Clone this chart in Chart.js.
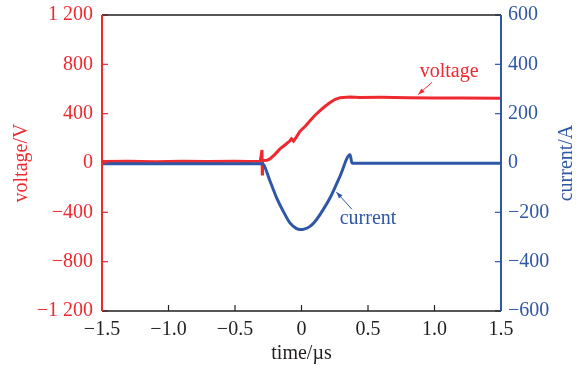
<!DOCTYPE html>
<html>
<head>
<meta charset="utf-8">
<script src="https://cdn.jsdelivr.net/npm/chart.js@4/dist/chart.umd.min.js"></script>
<style>
  html, body { margin: 0; padding: 0; background: #fff; }
  #wrap { width: 579px; height: 370px; }
</style>
</head>
<body>
<div id="wrap"><canvas id="waveChart" width="579" height="370"></canvas></div>
<script>
// voltage trace (time in µs, volts)
const voltageTime = [-1.5, -1.3, -1.1, -0.9, -0.7, -0.5, -0.4, -0.31, -0.297, -0.295, -0.293, -0.26, -0.237, -0.2, -0.162, -0.12, -0.087, -0.075, -0.06, -0.04, -0.011, 0.03, 0.064, 0.1, 0.139, 0.18, 0.215, 0.25, 0.29, 0.365, 0.44, 0.6, 0.8, 1.0, 1.2, 1.5];
const voltageValues = [12, 14, 11, 14, 12, 14, 13, 15, 106, -90, 20, 22, 33, 70, 114, 150, 180, 196, 178, 208, 258, 300, 343, 385, 424, 462, 490, 515, 530, 536, 532, 533, 530, 528, 527, 526];

// current trace (time in µs, amps)
const currentTime = [-1.5, -1.0, -0.5, -0.295, -0.237, -0.187, -0.137, -0.087, -0.04, -0.011, 0.02, 0.064, 0.1, 0.139, 0.215, 0.29, 0.365, 0.38, 0.42, 1.0, 1.5];
const currentValues = [-3, -3, -3, -3, -73, -141, -196, -243, -265, -270, -268, -257, -238, -209, -141, -53, 33, -1, -1, -1, -1];

const xTicks = [-1.5, -1.0, -0.5, 0, 0.5, 1.0, 1.5];
const xTickLabels = ["\u22121.5", "\u22121.0", "\u22120.5", "0", "0.5", "1.0", "1.5"];
const vTicks = [-1200, -800, -400, 0, 400, 800, 1200];
const vTickLabels = ["\u22121 200", "\u2212800", "\u2212400", "0", "400", "800", "1 200"];
const iTicks = [-600, -400, -200, 0, 200, 400, 600];
const iTickLabels = ["\u2212600", "\u2212400", "\u2212200", "0", "200", "400", "600"];

const RED = "#ee2a30";
const BLUE = "#2f57a7";
const INK = "#231f20";
const FONT = "Liberation Serif";

const toPoints = (xs, ys) => xs.map((t, i) => ({ x: t, y: ys[i] }));
const setTicks = (vals) => (scale) => { scale.ticks = vals.map(v => ({ value: v })); };
const labelFrom = (vals, labels) => (v) => labels[vals.indexOf(v)] ?? "";
const fixBox = (w, h) => (s) => {
  if (w) s.width = w;
  if (h) s.height = h;
  s.paddingTop = 0; s.paddingBottom = 0; s.paddingLeft = 0; s.paddingRight = 0;
};

// frame, inward ticks, axis titles and the two callouts
const decor = {
  id: "decor",
  afterDatasetsDraw(chart) {
    const { ctx, chartArea: a, scales: { x, y, y2 } } = chart;
    ctx.save();
    const tick = 6;

    ctx.lineWidth = 1.2;
    ctx.strokeStyle = INK;
    xTicks.forEach(v => {
      const px = x.getPixelForValue(v);
      ctx.beginPath(); ctx.moveTo(px, a.bottom); ctx.lineTo(px, a.bottom - tick); ctx.stroke();
    });
    ctx.strokeStyle = RED;
    vTicks.forEach(v => {
      const py = y.getPixelForValue(v);
      ctx.beginPath(); ctx.moveTo(a.left, py); ctx.lineTo(a.left + tick, py); ctx.stroke();
    });
    ctx.strokeStyle = BLUE;
    iTicks.forEach(v => {
      const py = y2.getPixelForValue(v);
      ctx.beginPath(); ctx.moveTo(a.right, py); ctx.lineTo(a.right - tick, py); ctx.stroke();
    });

    ctx.lineWidth = 1.5;
    ctx.strokeStyle = INK;
    ctx.beginPath();
    ctx.moveTo(a.left, a.top); ctx.lineTo(a.right, a.top);
    ctx.moveTo(a.left, a.bottom); ctx.lineTo(a.right, a.bottom);
    ctx.stroke();
    ctx.lineWidth = 2;
    ctx.strokeStyle = RED;
    ctx.beginPath(); ctx.moveTo(a.left, a.top); ctx.lineTo(a.left, a.bottom); ctx.stroke();
    ctx.strokeStyle = BLUE;
    ctx.beginPath(); ctx.moveTo(a.right, a.top); ctx.lineTo(a.right, a.bottom); ctx.stroke();

    // axis titles
    ctx.font = "20px '" + FONT + "'";
    ctx.textAlign = "center";
    ctx.textBaseline = "middle";
    const midY = (a.top + a.bottom) / 2;
    ctx.fillStyle = RED;
    ctx.save(); ctx.translate(22, midY); ctx.rotate(-Math.PI / 2); ctx.fillText("voltage/V", 0, 0); ctx.restore();
    ctx.fillStyle = BLUE;
    ctx.save(); ctx.translate(567, midY); ctx.rotate(-Math.PI / 2); ctx.fillText("current/A", 0, 0); ctx.restore();
    ctx.fillStyle = INK;
    ctx.fillText("time/\u00b5s", (a.left + a.right) / 2, 354);

    // callouts
    const arrow = (x0, y0, x1, y1, color) => {
      ctx.strokeStyle = color; ctx.fillStyle = color; ctx.lineWidth = 1;
      ctx.beginPath(); ctx.moveTo(x0, y0); ctx.lineTo(x1, y1); ctx.stroke();
      const ang = Math.atan2(y1 - y0, x1 - x0), h = 7, w = 0.35;
      ctx.beginPath();
      ctx.moveTo(x1, y1);
      ctx.lineTo(x1 - h * Math.cos(ang - w), y1 - h * Math.sin(ang - w));
      ctx.lineTo(x1 - h * Math.cos(ang + w), y1 - h * Math.sin(ang + w));
      ctx.closePath(); ctx.fill();
    };
    ctx.font = "20px '" + FONT + "'";
    ctx.fillStyle = RED;
    ctx.fillText("voltage", x.getPixelForValue(1.11), y.getPixelForValue(743));
    arrow(x.getPixelForValue(0.98), y.getPixelForValue(653), x.getPixelForValue(0.877), y.getPixelForValue(555), RED);
    ctx.fillStyle = BLUE;
    ctx.fillText("current", x.getPixelForValue(0.50), y2.getPixelForValue(-224));
    arrow(x.getPixelForValue(0.38), y2.getPixelForValue(-188), x.getPixelForValue(0.262), y2.getPixelForValue(-118), BLUE);
    ctx.restore();
  }
};

const ctx = document.getElementById("waveChart").getContext("2d");
const waveChart = new Chart(ctx, {
  type: "line",
  data: {
    datasets: [
      {
        label: "current",
        data: toPoints(currentTime, currentValues),
        yAxisID: "y2",
        borderColor: BLUE,
        borderWidth: 3,
        pointRadius: 0,
        cubicInterpolationMode: "monotone",
        fill: false,
      },
      {
        label: "voltage",
        data: toPoints(voltageTime, voltageValues),
        yAxisID: "y",
        borderColor: RED,
        borderWidth: 3,
        pointRadius: 0,
        tension: 0,
        fill: false,
      },
    ],
  },
  options: {
    responsive: false,
    animation: false,
    events: [],
    layout: { padding: { top: 15, left: 0, right: 0, bottom: 0 } },
    plugins: { legend: { display: false }, tooltip: { enabled: false } },
    scales: {
      x: {
        type: "linear",
        min: -1.5,
        max: 1.5,
        grid: { display: false, drawTicks: false },
        border: { display: false },
        afterBuildTicks: setTicks(xTicks),
        afterFit: fixBox(0, 59),
        ticks: {
          autoSkip: false,
          maxRotation: 0,
          padding: 7,
          color: INK,
          font: { family: FONT, size: 20 },
          callback: labelFrom(xTicks, xTickLabels),
        },
      },
      y: {
        position: "left",
        min: -1200,
        max: 1200,
        grid: { display: false, drawTicks: false },
        border: { display: false },
        afterBuildTicks: setTicks(vTicks),
        afterFit: fixBox(102, 0),
        ticks: {
          autoSkip: false,
          padding: 9,
          color: RED,
          font: { family: FONT, size: 20 },
          callback: labelFrom(vTicks, vTickLabels),
        },
      },
      y2: {
        position: "right",
        min: -600,
        max: 600,
        grid: { display: false, drawTicks: false },
        border: { display: false },
        afterBuildTicks: setTicks(iTicks),
        afterFit: fixBox(78, 0),
        ticks: {
          autoSkip: false,
          padding: 7,
          color: BLUE,
          font: { family: FONT, size: 20 },
          callback: labelFrom(iTicks, iTickLabels),
        },
      },
    },
  },
  plugins: [decor],
});
</script>
</body>
</html>
